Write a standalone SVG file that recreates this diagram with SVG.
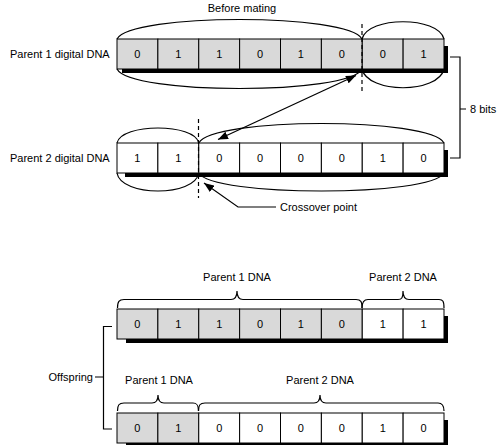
<svg xmlns="http://www.w3.org/2000/svg" width="500" height="445" viewBox="0 0 500 445">
<style>
.t{font-family:"Liberation Sans",Arial,sans-serif;font-size:11px;fill:#000}
.c{text-anchor:middle}
.e{text-anchor:end}
.g{fill:#d9d9d9;stroke:#000;stroke-width:1}
.w{fill:#fff;stroke:#000;stroke-width:1}
.sh{fill:#000}
.ln{fill:none;stroke:#000;stroke-width:1.2}
.ds{fill:none;stroke:#000;stroke-width:1.2;stroke-dasharray:4 3}
</style>
<defs>
<marker id="ah" viewBox="0 0 10 8" refX="10" refY="4" markerWidth="10" markerHeight="8" markerUnits="userSpaceOnUse" orient="auto-start-reverse">
<path d="M0,0 L10,4 L0,8 Z" fill="#000"/>
</marker>
</defs>
<rect width="500" height="445" fill="#fff"/>

<text id="title" class="t c" x="242" y="12">Before mating</text>

<g id="parent1">
<text class="t" x="10" y="58">Parent 1 digital DNA</text>
<path class="ln" d="M117,39 C130,13 349,13 362,39 M117,69 C130,95 349,95 362,69"/>
<path class="ln" d="M362,39 C368,16 438,16 444,39 M362,69 C368,94 438,94 444,69"/>
<rect class="sh" x="122" y="69" width="326" height="4"/>
<rect class="sh" x="444" y="46" width="4" height="27"/>
<rect class="g" x="117" y="39" width="40.875" height="30"/>
<rect class="g" x="157.875" y="39" width="40.875" height="30"/>
<rect class="g" x="198.75" y="39" width="40.875" height="30"/>
<rect class="g" x="239.625" y="39" width="40.875" height="30"/>
<rect class="g" x="280.5" y="39" width="40.875" height="30"/>
<rect class="g" x="321.375" y="39" width="40.875" height="30"/>
<rect class="g" x="362.25" y="39" width="40.875" height="30"/>
<rect class="g" x="403.125" y="39" width="40.875" height="30"/>
<g class="t c">
<text x="137.4" y="58">0</text><text x="178.3" y="58">1</text><text x="219.2" y="58">1</text><text x="260.1" y="58">0</text>
<text x="300.9" y="58">1</text><text x="341.8" y="58">0</text><text x="382.7" y="58">0</text><text x="423.6" y="58">1</text>
</g>
</g>

<g id="parent2">
<text class="t" x="10" y="162">Parent 2 digital DNA</text>
<path class="ln" d="M117,143 C121,123 195,123 198.75,143 M117,173 C121,197 195,197 198.75,173"/>
<path class="ln" d="M198.75,143 C212,117 431,117 444,143 M198.75,173 C212,197 431,197 444,173"/>
<rect class="sh" x="125" y="173" width="323" height="4"/>
<rect class="sh" x="444" y="150" width="4" height="27"/>
<rect class="w" x="117" y="143" width="40.875" height="30"/>
<rect class="w" x="157.875" y="143" width="40.875" height="30"/>
<rect class="w" x="198.75" y="143" width="40.875" height="30"/>
<rect class="w" x="239.625" y="143" width="40.875" height="30"/>
<rect class="w" x="280.5" y="143" width="40.875" height="30"/>
<rect class="w" x="321.375" y="143" width="40.875" height="30"/>
<rect class="w" x="362.25" y="143" width="40.875" height="30"/>
<rect class="w" x="403.125" y="143" width="40.875" height="30"/>
<g class="t c">
<text x="137.4" y="162">1</text><text x="178.3" y="162">1</text><text x="219.2" y="162">0</text><text x="260.1" y="162">0</text>
<text x="300.9" y="162">0</text><text x="341.8" y="162">0</text><text x="382.7" y="162">1</text><text x="423.6" y="162">0</text>
</g>
</g>

<g id="bits">
<text class="t" x="470" y="113">8 bits</text>
</g>

<g id="crossover">
<text class="t" x="280" y="211">Crossover point</text>
</g>

<g id="offspring1">
<rect class="sh" x="126" y="339" width="322" height="4"/>
<rect class="sh" x="444" y="316" width="4" height="27"/>
<rect class="g" x="117" y="309" width="40.875" height="30"/>
<rect class="g" x="157.875" y="309" width="40.875" height="30"/>
<rect class="g" x="198.75" y="309" width="40.875" height="30"/>
<rect class="g" x="239.625" y="309" width="40.875" height="30"/>
<rect class="g" x="280.5" y="309" width="40.875" height="30"/>
<rect class="g" x="321.375" y="309" width="40.875" height="30"/>
<rect class="w" x="362.25" y="309" width="40.875" height="30"/>
<rect class="w" x="403.125" y="309" width="40.875" height="30"/>
<g class="t c">
<text x="137.4" y="328">0</text><text x="178.3" y="328">1</text><text x="219.2" y="328">1</text><text x="260.1" y="328">0</text>
<text x="300.9" y="328">1</text><text x="341.8" y="328">0</text><text x="382.7" y="328">1</text><text x="423.6" y="328">1</text>
</g>
<text class="t c" x="237" y="281">Parent 1 DNA</text>
<text class="t c" x="403" y="281">Parent 2 DNA</text>
</g>

<g id="offspring2">
<rect class="sh" x="126" y="443" width="322" height="4"/>
<rect class="sh" x="444" y="420" width="4" height="27"/>
<rect class="g" x="117" y="413" width="40.875" height="30"/>
<rect class="g" x="157.875" y="413" width="40.875" height="30"/>
<rect class="w" x="198.75" y="413" width="40.875" height="30"/>
<rect class="w" x="239.625" y="413" width="40.875" height="30"/>
<rect class="w" x="280.5" y="413" width="40.875" height="30"/>
<rect class="w" x="321.375" y="413" width="40.875" height="30"/>
<rect class="w" x="362.25" y="413" width="40.875" height="30"/>
<rect class="w" x="403.125" y="413" width="40.875" height="30"/>
<g class="t c">
<text x="137.4" y="432">0</text><text x="178.3" y="432">1</text><text x="219.2" y="432">0</text><text x="260.1" y="432">0</text>
<text x="300.9" y="432">0</text><text x="341.8" y="432">0</text><text x="382.7" y="432">1</text><text x="423.6" y="432">0</text>
</g>
<text class="t c" x="159" y="384">Parent 1 DNA</text>
<text class="t c" x="320" y="384">Parent 2 DNA</text>
</g>

<g id="offspring-label">
<text class="t e" x="93" y="381">Offspring</text>
</g>

<g id="connectors">
<path class="ds" d="M362,24 V94"/>
<path class="ds" d="M198.5,119 V198"/>
<path class="ln" d="M218,139.5 L356,75.5" marker-start="url(#ah)" marker-end="url(#ah)"/>
<path class="ln" d="M276,207 H238 L204,183" marker-end="url(#ah)"/>
<path class="ln" d="M450,57 H460 V158 H450 M460,109 H466"/>
<path class="ln" d="M95,377 H103.5 M112,326.5 H103.5 V429 H112"/>
<path class="ln" d="M117.5,308 C117.5,301.5 119,299.5 124,299.5 H231 C235,299.5 237,297.5 237,291 C237,297.5 239,299.5 243,299.5 H356 C361,299.5 362,301.5 362,308"/>
<path class="ln" d="M362,308 C362,301.5 364,299.5 368,299.5 H398 C402,299.5 403,297.5 403,291 C403,297.5 405,299.5 409,299.5 H439 C443,299.5 444,301.5 444,308"/>
<path class="ln" d="M117.5,411 C117.5,405 119,403 124,403 H152 C156,403 158,401 158,395 C158,401 160,403 164,403 H193 C197,403 198.5,405 198.5,411"/>
<path class="ln" d="M198.5,411 C198.5,405 200,403 205,403 H314 C318,403 320,401 320,395 C320,401 322,403 326,403 H438 C442,403 444,405 444,411"/>
</g>
</svg>
